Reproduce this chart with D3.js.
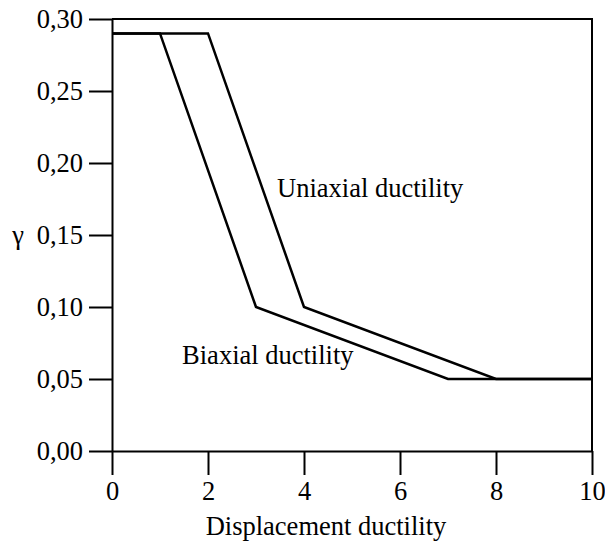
<!DOCTYPE html>
<html>
<head>
<meta charset="utf-8">
<script src="https://cdn.jsdelivr.net/npm/d3@7"></script>
<style>
  body { margin: 0; background: #fff; }
  svg text { font-family: "Liberation Serif", "Times New Roman", Times, serif; fill: #000; }
  .axis path, .axis line { stroke: #000; stroke-width: 2; }
</style>
</head>
<body>
<script>
(function () {

    //data
    var uniX = [0, 2, 4, 8, 10];
    var uniY = [0.29, 0.29, 0.10, 0.05, 0.05];
    var biX = [0, 1, 3, 7, 10];
    var biY = [0.29, 0.29, 0.10, 0.05, 0.05];
    var xTicks = [0, 2, 4, 6, 8, 10];
    var yTicks = [0, 0.05, 0.10, 0.15, 0.20, 0.25, 0.30];

    var width = 605, height = 541;
    var margin = {top: 19, right: 13, bottom: 90, left: 112};
    var fs = "26.5px";
    var serif = '"Liberation Serif", "Times New Roman", Times, serif';

    var svg = d3.select("body").append("svg")
        .attr("width", width)
        .attr("height", height);

    var x = d3.scaleLinear().domain([0, 10]).range([margin.left, width - margin.right]);
    var y = d3.scaleLinear().domain([0, 0.30]).range([height - margin.bottom, margin.top]);

    var fmt = d3.formatLocale({decimal: ",", thousands: ".", grouping: [3], currency: ["", ""]}).format(".2f");

    //frame (top and right)
    svg.append("path")
        .attr("d", "M" + x(0) + "," + y(0.30) + "H" + x(10) + "V" + y(0))
        .attr("fill", "none")
        .attr("stroke", "#000")
        .attr("stroke-width", 2);

    var gx = svg.append("g")
        .attr("class", "axis")
        .attr("transform", "translate(0," + y(0) + ")")
        .call(d3.axisBottom(x).tickValues(xTicks).tickSize(24).tickSizeOuter(0).tickPadding(6));

    var gy = svg.append("g")
        .attr("class", "axis")
        .attr("transform", "translate(" + x(0) + ",0)")
        .call(d3.axisLeft(y).tickValues(yTicks).tickFormat(fmt).tickSize(23).tickSizeOuter(0).tickPadding(6));

    [gx, gy].forEach(function (g) {
        g.attr("font-family", serif).attr("font-size", null);
        g.selectAll("text").style("font-family", serif).style("font-size", fs);
    });

    var line = d3.line()
        .x(function (d) { return x(d[0]); })
        .y(function (d) { return y(d[1]); });

    [[uniX, uniY], [biX, biY]].forEach(function (s) {
        svg.append("path")
            .datum(d3.zip(s[0], s[1]))
            .attr("d", line)
            .attr("fill", "none")
            .attr("stroke", "#000")
            .attr("stroke-width", 2.5)
            .attr("stroke-linejoin", "miter");
    });

    //labels
    svg.append("text")
        .attr("x", x(3.44))
        .attr("y", y(0.1764))
        .style("font-size", fs)
        .text("Uniaxial ductility");

    svg.append("text")
        .attr("x", x(1.46))
        .attr("y", y(0.0604))
        .style("font-size", fs)
        .text("Biaxial ductility");

    svg.append("text")
        .attr("x", 326)
        .attr("y", 535)
        .attr("text-anchor", "middle")
        .style("font-size", fs)
        .text("Displacement ductility");

    svg.append("text")
        .attr("x", 18)
        .attr("y", y(0.15) + 9)
        .attr("text-anchor", "middle")
        .style("font-size", fs)
        .text("γ");

})();
</script>
</body>
</html>
